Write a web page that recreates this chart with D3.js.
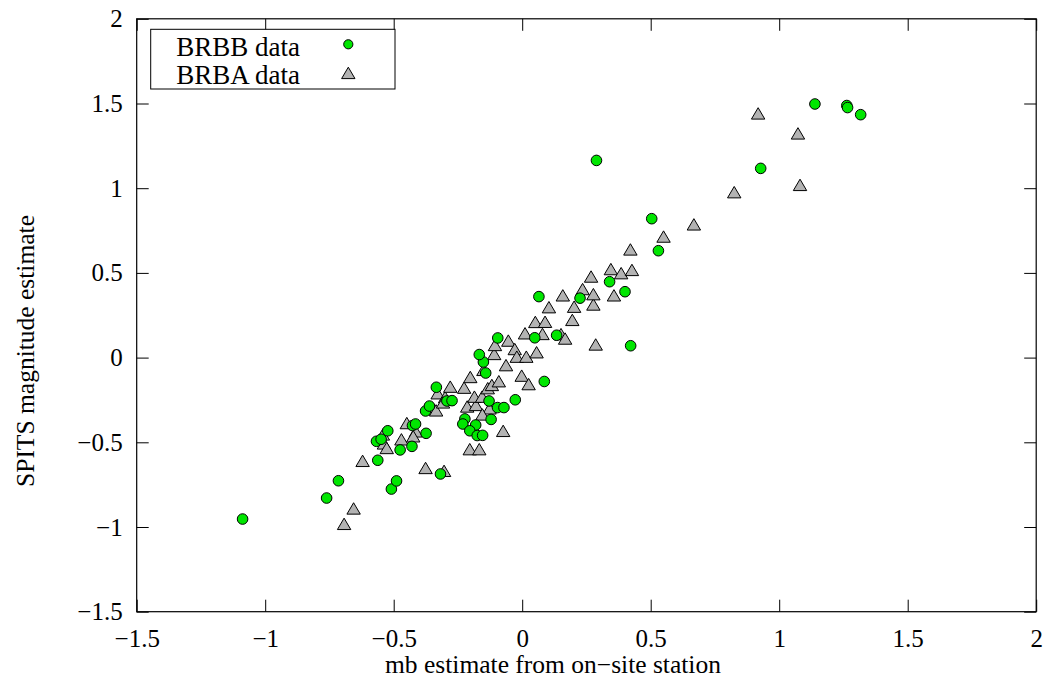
<!DOCTYPE html>
<html>
<head>
<meta charset="utf-8">
<script src="https://cdn.jsdelivr.net/npm/d3@7"></script>
<style>
  body { margin: 0; background: #fff; }
  text { font-family: "Liberation Serif", "Times New Roman", serif; }
</style>
</head>
<body>
<svg id="chart" width="1043" height="684"></svg>
<script>
// BRBB data (circles): [mb on-site, SPITS]
var brbb = [
  [-1.088, -0.953], [-0.761, -0.829], [-0.715, -0.727], [-0.562, -0.606],
  [-0.567, -0.494], [-0.549, -0.482], [-0.523, -0.432], [-0.509, -0.776],
  [-0.489, -0.728], [-0.475, -0.545], [-0.429, -0.524], [-0.427, -0.401],
  [-0.415, -0.392], [-0.374, -0.447], [-0.376, -0.315], [-0.361, -0.286],
  [-0.334, -0.175], [-0.318, -0.687], [-0.293, -0.256], [-0.273, -0.254],
  [-0.223, -0.362], [-0.231, -0.392], [-0.181, -0.398], [-0.204, -0.432],
  [-0.175, -0.460], [-0.154, -0.459], [-0.121, -0.365], [-0.129, -0.256],
  [-0.096, -0.295], [-0.071, -0.295], [-0.027, -0.249], [-0.142, -0.091],
  [-0.151, -0.026], [-0.167, 0.018], [-0.095, 0.116], [0.049, 0.117],
  [0.134, 0.132], [0.086, -0.141], [0.065, 0.360], [0.225, 0.351],
  [0.340, 0.448], [0.400, 0.389], [0.422, 0.070], [0.504, 0.820],
  [0.530, 0.631], [0.289, 1.164], [0.928, 1.117], [1.139, 1.497],
  [1.263, 1.488], [1.266, 1.476], [1.317, 1.434]
];

// BRBA data (triangles)
var brba = [
  [-0.693, -0.982], [-0.656, -0.891], [-0.621, -0.610], [-0.542, -0.454],
  [-0.538, -0.507], [-0.527, -0.534], [-0.470, -0.483], [-0.449, -0.387],
  [-0.414, -0.436], [-0.424, -0.465], [-0.376, -0.652], [-0.304, -0.669],
  [-0.335, -0.312], [-0.329, -0.211], [-0.300, -0.234], [-0.308, -0.265],
  [-0.280, -0.172], [-0.226, -0.178], [-0.202, -0.115], [-0.214, -0.289],
  [-0.180, -0.280], [-0.186, -0.231], [-0.156, -0.231], [-0.127, -0.300],
  [-0.155, -0.336], [-0.074, -0.433], [-0.204, -0.541], [-0.167, -0.541],
  [-0.134, -0.181], [-0.118, -0.162], [-0.091, -0.140], [-0.151, -0.073],
  [-0.063, -0.045], [-0.109, 0.021], [-0.106, 0.074], [-0.054, 0.100],
  [-0.029, 0.050], [-0.021, 0.005], [0.016, 0.005], [0.056, 0.031],
  [-0.002, -0.107], [0.025, -0.157], [0.011, 0.143], [0.079, 0.139],
  [0.051, 0.210], [0.089, 0.211], [0.151, 0.138], [0.167, 0.112],
  [0.104, 0.297], [0.195, 0.222], [0.202, 0.300], [0.277, 0.313],
  [0.158, 0.367], [0.235, 0.404], [0.277, 0.374], [0.357, 0.367],
  [0.268, 0.478], [0.345, 0.522], [0.385, 0.498], [0.427, 0.517],
  [0.421, 0.638], [0.286, 0.077], [0.550, 0.714], [0.668, 0.786],
  [0.825, 0.976], [1.081, 1.019], [1.073, 1.323], [0.918, 1.441]
];

var xTicks = [-1.5, -1, -0.5, 0, 0.5, 1, 1.5, 2];
var yTicks = [-1.5, -1, -0.5, 0, 0.5, 1, 1.5, 2];
var seriesNames = ["BRBB data", "BRBA data"];

var svg = d3.select("#chart");
var pLeft = 136.7, pRight = 1036.2, pTop = 18.8, pBottom = 611.7;
var x = d3.scaleLinear().domain([-1.5, 2]).range([pLeft, pRight]);
var y = d3.scaleLinear().domain([-1.5, 2]).range([pBottom, pTop]);
var fmt = d3.format("~g");
var tickLen = 12;

// axes with inward ticks, mirrored on top and right
svg.append("g").attr("transform", "translate(0," + pBottom + ")")
  .call(d3.axisBottom(x).tickValues(xTicks).tickFormat(fmt).tickSize(-tickLen).tickPadding(18));
svg.append("g").attr("transform", "translate(0," + pTop + ")")
  .call(d3.axisTop(x).tickValues(xTicks).tickFormat("").tickSize(-tickLen));
svg.append("g").attr("transform", "translate(" + pLeft + ",0)")
  .call(d3.axisLeft(y).tickValues(yTicks).tickFormat(fmt).tickSize(-tickLen).tickPadding(14));
svg.append("g").attr("transform", "translate(" + pRight + ",0)")
  .call(d3.axisRight(y).tickValues(yTicks).tickFormat("").tickSize(-tickLen));

svg.selectAll(".domain").remove();
svg.selectAll(".tick line").attr("stroke", "#000").attr("stroke-width", 1);
svg.selectAll(".tick text").attr("font-size", 25).attr("fill", "#000")
  .attr("font-family", "Liberation Serif, serif");

svg.append("rect")
  .attr("x", pLeft).attr("y", pTop)
  .attr("width", pRight - pLeft).attr("height", pBottom - pTop)
  .attr("fill", "none").attr("stroke", "#000").attr("stroke-width", 1.2);

// axis titles
svg.append("text")
  .attr("x", 553).attr("y", 673)
  .attr("text-anchor", "middle").attr("font-size", 25.5)
  .text("mb estimate from on\u2212site station");
svg.append("text")
  .attr("transform", "translate(34,351) rotate(-90)")
  .attr("text-anchor", "middle").attr("font-size", 25.5)
  .text("SPITS magnitude estimate");

var triPath = "M0,-5.8L6.7,5.6L-6.7,5.6Z";

// triangles first, circles on top
svg.append("g").selectAll("path")
  .data(brba).enter().append("path")
  .attr("d", triPath)
  .attr("transform", function(d) { return "translate(" + x(d[0]) + "," + y(d[1]) + ")"; })
  .attr("fill", "#b3b3b3").attr("stroke", "#000").attr("stroke-width", 1);

svg.append("g").selectAll("circle")
  .data(brbb).enter().append("circle")
  .attr("cx", function(d) { return x(d[0]); })
  .attr("cy", function(d) { return y(d[1]); })
  .attr("r", 5.3)
  .attr("fill", "#00e600").attr("stroke", "#000").attr("stroke-width", 1);

// legend
var lg = svg.append("g");
lg.append("rect")
  .attr("x", 150.7).attr("y", 29.3).attr("width", 244.3).attr("height", 59.7)
  .attr("fill", "#fff").attr("stroke", "#000").attr("stroke-width", 1);
lg.selectAll("text").data(seriesNames).enter().append("text")
  .attr("x", 300).attr("y", function(d, i) { return 56 + i * 28; })
  .attr("text-anchor", "end").attr("font-size", 27)
  .text(function(d) { return d; });
lg.append("circle").attr("cx", 348.3).attr("cy", 44.3).attr("r", 4.6)
  .attr("fill", "#00e600").attr("stroke", "#000").attr("stroke-width", 1);
lg.append("path").attr("d", triPath)
  .attr("transform", "translate(348.3,73)")
  .attr("fill", "#b3b3b3").attr("stroke", "#000").attr("stroke-width", 1);
</script>
</body>
</html>
